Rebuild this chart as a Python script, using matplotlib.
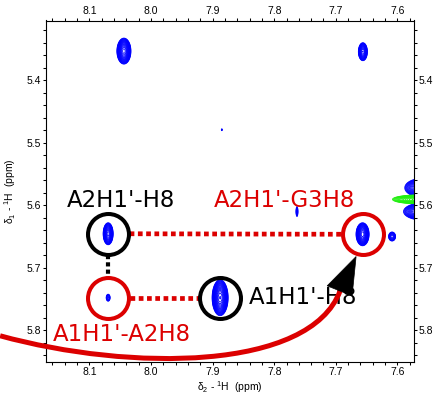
import matplotlib
matplotlib.use("Agg")
import matplotlib.pyplot as plt
import numpy as np
from matplotlib.path import Path
from matplotlib.patches import PathPatch, Polygon
from matplotlib.ticker import MultipleLocator, FormatStrFormatter

plt.rcParams['font.family'] = 'Liberation Sans'
plt.rcParams['mathtext.fontset'] = 'custom'
plt.rcParams['mathtext.rm'] = 'Liberation Sans'

# cross peaks drawn in blue: position (ppm), half width at the lowest contour (ppm), height
pos_x = [8.044, 7.656, 7.763, 7.885, 8.0696, 8.0696, 7.8878, 7.6565, 7.6086, 7.560, 7.560, 7.599]
pos_y = [5.353, 5.354, 5.610, 5.479, 5.6456, 5.748, 5.748, 5.6464, 5.650, 5.572, 5.610, 5.862]
pos_wx = [0.0114, 0.0073, 0.0016, 0.0008, 0.0081, 0.0032, 0.0130, 0.0106, 0.0057, 0.028, 0.030, 0.004]
pos_wy = [0.0208, 0.0144, 0.0080, 0.0015, 0.0176, 0.0056, 0.0288, 0.0184, 0.0072, 0.0150, 0.0135, 0.006]
pos_h = [100, 40, 3, 2, 60, 5, 150, 80, 10, 50, 50, 5]

# negative peak drawn in green
neg_x = [7.566]
neg_y = [5.5905]
neg_wx = [0.042]
neg_wy = [0.0070]
neg_h = [50]

# circled peaks
circ_x = [8.0696, 8.0696, 7.8878, 7.6565]
circ_y = [5.6456, 5.748, 5.748, 5.6464]
circ_col = ['black', '#dc0000', 'black', '#dc0000']

# labels
lab_text = ["A2H1'-H8", "A2H1'-G3H8", "A1H1'-H8", "A1H1'-A2H8"]
lab_x = [8.048, 7.783, 7.753, 8.048]
lab_y = [5.593, 5.592, 5.748, 5.807]
lab_col = ['black', '#dc0000', 'black', '#dc0000']

red = '#dc0000'

gx = np.linspace(7.45, 8.25, 1200)
gy = np.linspace(5.26, 5.92, 1000)
X, Y = np.meshgrid(gx, gy)


def spectrum(xs, ys, wxs, wys, hs):
    Z = np.zeros_like(X)
    for x0, y0, wx, wy, h in zip(xs, ys, wxs, wys, hs):
        s = np.sqrt(2 * np.log(h))
        Z += h * np.exp(-0.5 * (((X - x0) / (wx / s)) ** 2 + ((Y - y0) / (wy / s)) ** 2))
    return Z


fig = plt.figure(figsize=(4.36, 3.97), dpi=100)
ax = fig.add_axes([45.7 / 436, 35 / 397, 368.3 / 436, 341.5 / 397])

levels = 1.0 * 1.3 ** np.arange(0, 22)
ax.contour(X, Y, spectrum(pos_x, pos_y, pos_wx, pos_wy, pos_h), levels=levels,
           colors='#0000ff', linewidths=0.6)
ax.contour(X, Y, spectrum(neg_x, neg_y, neg_wx, neg_wy, neg_h), levels=levels,
           colors='#22ee11', linewidths=0.6)

ax.set_xlim(8.171, 7.573)
ax.set_ylim(5.851, 5.304)

# ppm per pixel, used to stop the dotted links at the circle rims
px_x = 0.1 / 61.6
px_y = 0.1 / 62.5
r = 21.5
dots = (0, (1, 0.75))
ax.plot([circ_x[0] - r * px_x, circ_x[3] + r * px_x], [circ_y[0], circ_y[3]],
        color=red, lw=3.4, ls=dots, zorder=3)
ax.plot([circ_x[1] - r * px_x, circ_x[2] + r * px_x], [circ_y[1], circ_y[2]],
        color=red, lw=3.4, ls=dots, zorder=3)
ax.plot([circ_x[0], circ_x[1]], [circ_y[0] + r * px_y, circ_y[1] - r * px_y],
        color='black', lw=3.0, ls=dots, zorder=3)

for cx, cy, c in zip(circ_x, circ_y, circ_col):
    ax.plot(cx, cy, 'o', ms=29.5, mfc='none', mec=c, mew=2.9, zorder=4)

for t, x, y, c in zip(lab_text, lab_x, lab_y, lab_col):
    ax.text(x, y, t, color=c, fontsize=16.5, family='DejaVu Sans',
            ha='center', va='center', zorder=5)

# curved arrow from the left margin to the A2H1'-G3H8 peak
verts = [(8.245, 5.809), (8.034, 5.866), (7.742, 5.866), (7.693, 5.737)]
curve = PathPatch(Path(verts, [Path.MOVETO, Path.CURVE4, Path.CURVE4, Path.CURVE4]),
                  fc='none', ec=red, lw=3.6, clip_on=False, zorder=6)
ax.add_patch(curve)
head = Polygon([(7.667, 5.682), (7.714, 5.729), (7.6735, 5.745)], closed=True,
               fc='black', ec='black', lw=0.5, clip_on=False, zorder=7)
ax.add_patch(head)

ax.xaxis.set_major_locator(MultipleLocator(0.1))
ax.xaxis.set_minor_locator(MultipleLocator(0.02))
ax.yaxis.set_major_locator(MultipleLocator(0.1))
ax.yaxis.set_minor_locator(MultipleLocator(0.02))
ax.xaxis.set_major_formatter(FormatStrFormatter('%.1f'))
ax.yaxis.set_major_formatter(FormatStrFormatter('%.1f'))
ax.tick_params(which='both', direction='out', length=2, width=0.75,
               top=True, right=True, labeltop=True, labelright=True,
               labelsize=7.5, pad=1.5)
for s in ax.spines.values():
    s.set_linewidth(0.8)

ax.set_xlabel(r'$\mathregular{\delta_2}$ - $\mathregular{^1}$H  (ppm)', fontsize=7.5, labelpad=1.5)
ax.set_ylabel(r'$\mathregular{\delta_1}$ - $\mathregular{^1}$H  (ppm)', fontsize=7.5, labelpad=6)

fig.savefig("out.png", dpi=100)
